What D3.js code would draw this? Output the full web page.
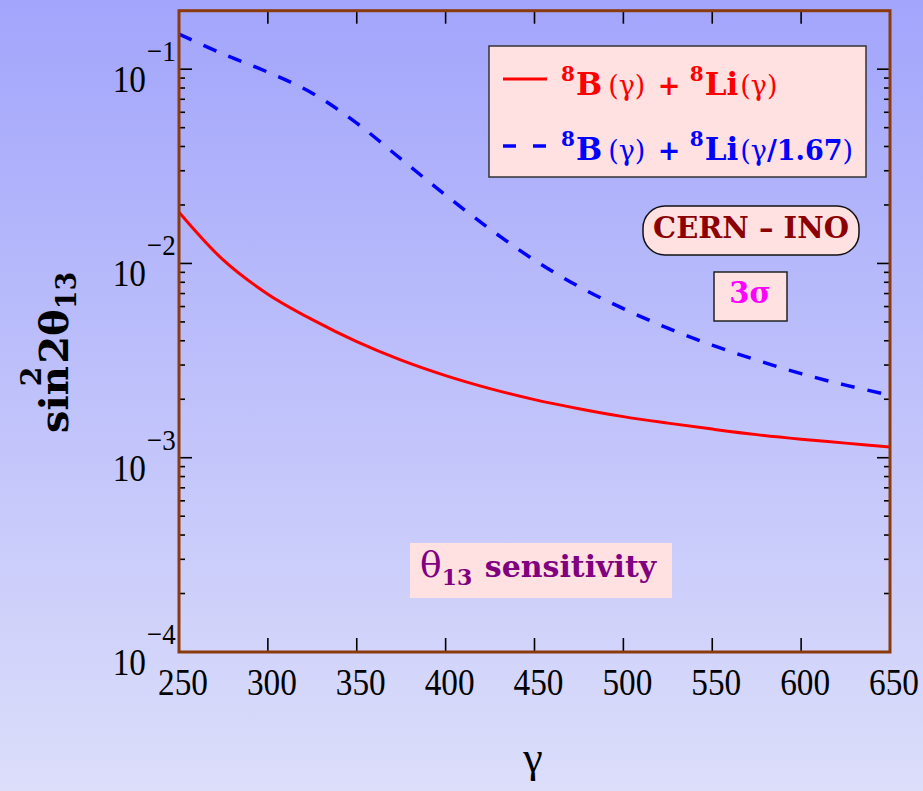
<!DOCTYPE html>
<html>
<head>
<meta charset="utf-8">
<script src="https://cdn.jsdelivr.net/npm/d3@7"></script>
<style>
  html, body { margin: 0; padding: 0; }
  svg { display: block; }
  .tnr { font-family: "Liberation Serif", "Times New Roman", Times, "Noto Serif", "DejaVu Serif", serif; }
  .csb { font-family: "DejaVu Serif", "Noto Serif", "Liberation Serif", "Century Schoolbook", serif; }
</style>
</head>
<body>
<div id="chart"></div>
<script>
// gamma values (x) and sin^2 2theta13 sensitivity
const gammaValues = [250, 275, 300, 325, 350, 375, 400, 425, 450, 475, 500, 525, 550, 575, 600, 625, 650];
const redValues = [0.01837, 0.010399, 0.006950, 0.005136, 0.003958, 0.003179, 0.002646, 0.002268, 0.001991,
    0.001789, 0.001628, 0.001507, 0.001404, 0.001315, 0.001246, 0.001189, 0.001134];
const blueValues = [0.15144, 0.11946, 0.09651, 0.07523, 0.05274, 0.03441, 0.02246, 0.01502, 0.010399,
    0.007597, 0.005853, 0.004645, 0.003798, 0.003179, 0.002709, 0.002363, 0.002101];

const xTicks = [250, 300, 350, 400, 450, 500, 550, 600, 650];
const yDecades = [1e-4, 1e-3, 1e-2, 1e-1];
const yExponents = ['\u22124', '\u22123', '\u22122', '\u22121'];

const chartApp = (() => {
    const W = 923, H = 791;
    const plot = { left: 179, right: 890, top: 10.7, bottom: 652 };

    const x = d3.scaleLinear().domain([250, 650]).range([plot.left, plot.right]);
    const y = d3.scaleLog().domain([1e-4, 0.2]).range([plot.bottom, plot.top]);

    // little helper for text with super/subscripts
    const richText = (g, xPos, yPos, parts, attrs) => {
        const t = g.append('text').attr('x', xPos).attr('y', yPos);
        Object.entries(attrs || {}).forEach(([k, v]) => t.attr(k, v));
        parts.forEach(p => {
            const s = t.append('tspan').text(p.t);
            if (p.size) s.attr('font-size', p.size);
            if (p.dy) s.attr('dy', p.dy);
            if (p.dx) s.attr('dx', p.dx);
            if (p.weight) s.attr('font-weight', p.weight);
        });
        return t;
    };

    const draw = () => {
        const svg = d3.select('#chart').append('svg')
            .attr('width', W)
            .attr('height', H);

        const defs = svg.append('defs');
        const grad = defs.append('linearGradient')
            .attr('id', 'bg')
            .attr('x1', 0).attr('y1', 0).attr('x2', 0).attr('y2', 1);
        grad.append('stop').attr('offset', 0).attr('stop-color', '#a2a5fb');
        grad.append('stop').attr('offset', 1).attr('stop-color', '#dcdefa');

        defs.append('clipPath').attr('id', 'clip')
            .append('rect')
            .attr('x', plot.left).attr('y', plot.top)
            .attr('width', plot.right - plot.left)
            .attr('height', plot.bottom - plot.top);

        svg.append('rect').attr('width', W).attr('height', H).attr('fill', 'url(#bg)');

        // ticks
        const ticks = svg.append('g').attr('stroke', '#000').attr('stroke-width', 1.6);
        const minor = [];
        yDecades.forEach(d => {
            for (let m = 2; m <= 9; m++) {
                const v = d * m;
                if (v < y.domain()[1]) minor.push(v);
            }
        });
        [plot.left, plot.right].forEach((edge, i) => {
            const dir = i === 0 ? 1 : -1;
            yDecades.forEach(v => {
                ticks.append('line')
                    .attr('x1', edge).attr('x2', edge + dir * 13)
                    .attr('y1', y(v)).attr('y2', y(v));
            });
            minor.forEach(v => {
                ticks.append('line')
                    .attr('x1', edge).attr('x2', edge + dir * 6)
                    .attr('y1', y(v)).attr('y2', y(v));
            });
        });
        xTicks.slice(1, -1).forEach(v => {
            ticks.append('line')
                .attr('x1', x(v)).attr('x2', x(v))
                .attr('y1', plot.bottom).attr('y2', plot.bottom - 14);
            ticks.append('line')
                .attr('x1', x(v)).attr('x2', x(v))
                .attr('y1', plot.top).attr('y2', plot.top + 13);
        });

        // curves
        const line = d3.line()
            .x((d, i) => x(gammaValues[i]))
            .y(d => y(d))
            .curve(d3.curveCatmullRom.alpha(0.5));

        const curves = svg.append('g').attr('clip-path', 'url(#clip)');
        curves.append('path')
            .attr('d', line(redValues))
            .attr('fill', 'none')
            .attr('stroke', '#ff0000')
            .attr('stroke-width', 3);
        curves.append('path')
            .attr('d', line(blueValues))
            .attr('fill', 'none')
            .attr('stroke', '#0000ff')
            .attr('stroke-width', 3.5)
            .attr('stroke-dasharray', '14,13');

        // frame
        svg.append('rect')
            .attr('x', plot.left).attr('y', plot.top)
            .attr('width', plot.right - plot.left)
            .attr('height', plot.bottom - plot.top)
            .attr('fill', 'none')
            .attr('stroke', '#8b3a0e')
            .attr('stroke-width', 3);

        // x tick labels
        const xl = svg.append('g')
            .attr('class', 'tnr')
            .attr('font-size', 37)
            .attr('fill', '#000');
        xTicks.forEach(v => {
            xl.append('text')
                .attr('transform', `translate(${x(v) + 4},695) scale(0.9,1)`)
                .attr('text-anchor', 'middle')
                .text(v);
        });

        // y tick labels
        const yl = svg.append('g')
            .attr('class', 'tnr')
            .attr('fill', '#000');
        yDecades.forEach((v, i) => {
            const yy = y(v) + 23;
            yl.append('text')
                .attr('transform', `translate(146,${yy}) scale(0.9,1)`)
                .attr('text-anchor', 'end')
                .attr('font-size', 37)
                .text('10');
            yl.append('text')
                .attr('transform', `translate(147,${yy - 31}) scale(0.9,1)`)
                .attr('font-size', 30)
                .text(yExponents[i]);
        });

        // axis titles
        svg.append('text')
            .attr('class', 'tnr')
            .attr('x', 533).attr('y', 772)
            .attr('text-anchor', 'middle')
            .attr('font-size', 44)
            .text('\u03b3');

        const yt = svg.append('g').attr('transform', 'translate(68,433) rotate(-90)');
        richText(yt, 0, 0, [
            { t: 'sin' },
            { t: '2', size: 28, dy: -27, dx: -20 },
            { t: '2', size: 40, dy: 27, dx: 3 },
            { t: '\u03b8' },
            { t: '13', size: 27, dy: 8 }
        ], { class: 'csb', 'font-size': 40, 'font-weight': 'bold', fill: '#000' });

        // legend
        const leg = svg.append('g');
        leg.append('rect')
            .attr('x', 489).attr('y', 46).attr('width', 377).attr('height', 131)
            .attr('fill', '#ffe1e1').attr('stroke', '#333').attr('stroke-width', 1.5);
        leg.append('line')
            .attr('x1', 503).attr('x2', 547).attr('y1', 79).attr('y2', 79)
            .attr('stroke', '#ff0000').attr('stroke-width', 3);
        leg.append('line')
            .attr('x1', 503).attr('x2', 549).attr('y1', 146).attr('y2', 146)
            .attr('stroke', '#0000ff').attr('stroke-width', 3.5)
            .attr('stroke-dasharray', '13,17');

        const legAttrs = (c) => ({ class: 'csb', 'font-size': 28, 'font-weight': 'bold', fill: c });
        richText(leg, 561, 95, [
            { t: '8', size: 20, dy: -14 },
            { t: 'B', size: 31, dy: 14, dx: 1 },
            { t: '(\u03b3)', size: 27, weight: 'normal', dx: 6 },
            { t: ' + ', size: 27, dx: 3 },
            { t: '8', size: 20, dy: -14 },
            { t: 'Li', size: 31, dy: 14, dx: 1 },
            { t: '(\u03b3)', size: 27, weight: 'normal', dx: 2 }
        ], legAttrs('#ff0000'));
        richText(leg, 561, 160, [
            { t: '8', size: 20, dy: -14 },
            { t: 'B', size: 31, dy: 14, dx: 1 },
            { t: '(\u03b3)', size: 27, weight: 'normal', dx: 6 },
            { t: ' + ', size: 27, dx: 3 },
            { t: '8', size: 20, dy: -14 },
            { t: 'Li', size: 31, dy: 14, dx: 1 },
            { t: '(\u03b3', size: 27, weight: 'normal', dx: 2 },
            { t: '/1.67', size: 27 },
            { t: ')', size: 27, weight: 'normal' }
        ], legAttrs('#0000ff'));

        // CERN - INO
        svg.append('rect')
            .attr('x', 643).attr('y', 206).attr('width', 216).attr('height', 49)
            .attr('rx', 22).attr('ry', 22)
            .attr('fill', '#ffe1e1').attr('stroke', '#111').attr('stroke-width', 1.5);
        svg.append('text')
            .attr('class', 'csb')
            .attr('x', 751).attr('y', 238)
            .attr('text-anchor', 'middle')
            .attr('font-size', 29).attr('font-weight', 'bold')
            .attr('fill', '#8b0000')
            .text('CERN \u2013 INO');

        // 3 sigma
        svg.append('rect')
            .attr('x', 714).attr('y', 272).attr('width', 73).attr('height', 49)
            .attr('fill', '#ffe1e1').attr('stroke', '#222').attr('stroke-width', 1.5);
        svg.append('text')
            .attr('class', 'csb')
            .attr('x', 750).attr('y', 303)
            .attr('text-anchor', 'middle')
            .attr('font-size', 29).attr('font-weight', 'bold')
            .attr('fill', '#ff00ff')
            .text('3\u03c3');

        // theta13 sensitivity
        svg.append('rect')
            .attr('x', 410).attr('y', 543).attr('width', 262).attr('height', 55)
            .attr('fill', '#ffe1e1');
        richText(svg, 420, 577, [
            { t: '\u03b8', weight: 'normal', size: 36 },
            { t: '13', size: 22, dy: 8 },
            { t: ' sensitivity', dy: -8, dx: 2 }
        ], { class: 'csb', 'font-size': 30, 'font-weight': 'bold', fill: '#800080' });
    };

    return { draw };
})();

chartApp.draw();
</script>
</body>
</html>
